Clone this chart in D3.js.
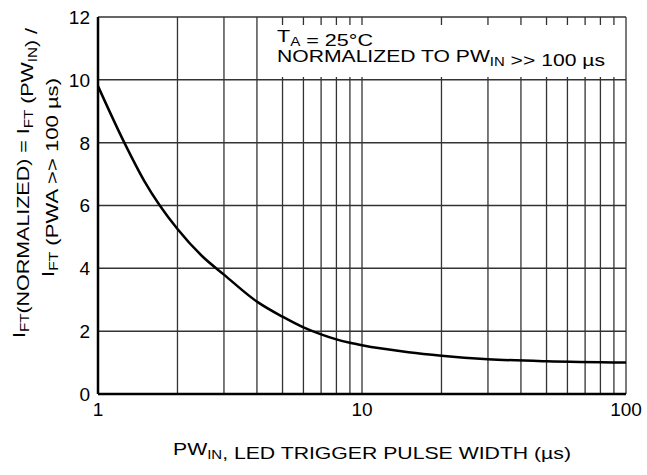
<!DOCTYPE html>
<html>
<head>
<meta charset="utf-8">
<script src="https://cdn.jsdelivr.net/npm/d3@7"></script>
<style>
  body { margin: 0; background: #fff; }
  text { font-family: "Liberation Sans", Arial, Helvetica, sans-serif; fill: #000; }
</style>
</head>
<body>
<div id="chart"></div>
<script>
// pulse width (us) vs normalized trigger current
var pulseWidth = [1, 1.25, 1.5, 2, 2.5, 3, 4, 5, 6, 7, 8, 9, 10, 15, 20, 30, 50, 100];
var iftNorm    = [9.8, 8.05, 6.77, 5.25, 4.36, 3.8, 2.94, 2.46, 2.12, 1.9, 1.74, 1.63, 1.55, 1.33, 1.22, 1.11, 1.04, 1.0];
var yTicks = [0, 2, 4, 6, 8, 10, 12];
var xTicks = [1, 10, 100];
var xMinor = [2, 3, 4, 5, 6, 7, 8, 9, 20, 30, 40, 50, 60, 70, 80, 90];

var margin = {left: 98, right: 21, top: 17, bottom: 81};
var width = 647 - margin.left - margin.right;
var height = 475 - margin.top - margin.bottom;

var svg = d3.select("#chart").append("svg")
  .attr("width", 647)
  .attr("height", 475);

var g = svg.append("g")
  .attr("transform", "translate(" + margin.left + "," + margin.top + ")");

var x = d3.scaleLog().domain([1, 100]).range([0, width]);
var y = d3.scaleLinear().domain([0, 12]).range([height, 0]);

// grid
g.selectAll(".hgrid").data(yTicks.slice(1)).enter().append("line")
  .attr("x1", 0).attr("x2", width)
  .attr("y1", function(d) { return y(d); })
  .attr("y2", function(d) { return y(d); })
  .attr("stroke", "#333").attr("stroke-width", 1.5);

g.selectAll(".vgrid").data(xMinor.concat([10, 100])).enter().append("line")
  .attr("x1", function(d) { return x(d); })
  .attr("x2", function(d) { return x(d); })
  .attr("y1", 0).attr("y2", height)
  .attr("stroke", "#333").attr("stroke-width", 1.3);

// white box behind the note
g.append("rect")
  .attr("x", 172).attr("y", 8)
  .attr("width", 350).attr("height", 52)
  .attr("fill", "#fff");

// axes (left & bottom heavy)
g.append("line").attr("x1", 0).attr("x2", 0).attr("y1", 0).attr("y2", height)
  .attr("stroke", "#000").attr("stroke-width", 2.5);
g.append("line").attr("x1", 0).attr("x2", width).attr("y1", height).attr("y2", height)
  .attr("stroke", "#000").attr("stroke-width", 2.5);

// tick labels
g.selectAll(".ylab").data(yTicks).enter().append("text")
  .attr("x", -8)
  .attr("y", function(d) { return y(d); })
  .attr("dy", "0.36em")
  .attr("text-anchor", "end")
  .attr("font-size", "19px")
  .text(function(d) { return d; });

g.selectAll(".xlab").data(xTicks).enter().append("text")
  .attr("x", function(d) { return x(d); })
  .attr("y", height + 22)
  .attr("text-anchor", "middle")
  .attr("font-size", "19px")
  .text(function(d) { return d; });

// curve
var line = d3.line()
  .x(function(d, i) { return x(pulseWidth[i]); })
  .y(function(d) { return y(d); })
  .curve(d3.curveMonotoneX);

g.append("path")
  .datum(iftNorm)
  .attr("d", line)
  .attr("fill", "none")
  .attr("stroke", "#000")
  .attr("stroke-width", 2.5);

// helper: text with subscripts ([s] = subscript), stretched to a given length
function richText(sel, parts, len) {
  parts.forEach(function(p) {
    if (typeof p !== "string") {
      sel.append("tspan").attr("dy", 4).attr("font-size", "12px").text(p[0]);
      sel.append("tspan").attr("dy", -4).text("");
    } else {
      sel.append("tspan").text(p);
    }
  });
  sel.attr("textLength", len).attr("lengthAdjust", "spacingAndGlyphs");
}

// note
richText(g.append("text").attr("x", 179).attr("y", 25).attr("font-size", "17px"),
  ["T", ["A"], " = 25°C"], 96);
richText(g.append("text").attr("x", 179).attr("y", 45).attr("font-size", "17px"),
  ["NORMALIZED TO PW", ["IN"], " >> 100 µs"], 328);

// x title
richText(svg.append("text").attr("x", 173).attr("y", 455).attr("font-size", "17px"),
  ["PW", ["IN"], ", LED TRIGGER PULSE WIDTH (µs)"], 398);

// y title, two lines
richText(svg.append("text").attr("transform", "translate(25,338) rotate(-90)").attr("font-size", "17px"),
  ["I", ["FT"], "(NORMALIZED) = I", ["FT"], " (PW", ["IN"], ") /"], 310);
richText(svg.append("text").attr("transform", "translate(54,277) rotate(-90)").attr("font-size", "17px"),
  ["I", ["FT"], " (PWA >> 100 µs)"], 199);
</script>
</body>
</html>
